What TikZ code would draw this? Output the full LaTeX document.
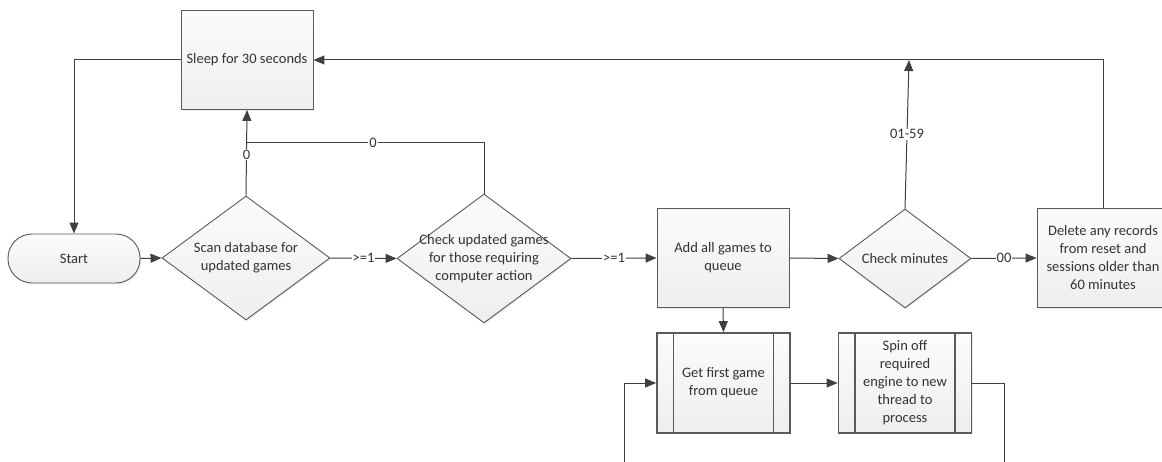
\documentclass[tikz,border=0pt]{standalone}
\usepackage{fontspec}
\setmainfont{Carlito}
\usetikzlibrary{arrows.meta,shapes.geometric,shadows}
\definecolor{ink}{HTML}{333333}
\definecolor{edgegray}{HTML}{5A5A5A}
\definecolor{wire}{HTML}{404040}
\begin{document}
\begin{tikzpicture}[x=1pt,y=-1pt,
  font=\fontsize{14.5}{18}\selectfont, text=ink,
  base/.style={draw=edgegray, line width=0.9pt, top color=gray!3, bottom color=gray!13,
    drop shadow={shadow xshift=1.2pt, shadow yshift=-1.2pt, opacity=0.15},
    inner sep=0pt, align=center},
  procbox/.style={base, rectangle, minimum width=132pt, minimum height=99pt},
  termbox/.style={base, rectangle, rounded corners=24pt, minimum width=132pt, minimum height=49pt},
  decide/.style={base, diamond, minimum width=#1},
  subproc/.style={base, rectangle, line width=1.7pt, minimum width=133pt, minimum height=100pt,
    path picture={
      \draw[edgegray, line width=1.5pt]
        ([xshift=16.5pt]path picture bounding box.north west) -- ([xshift=16.5pt]path picture bounding box.south west)
        ([xshift=-16.5pt]path picture bounding box.north east) -- ([xshift=-16.5pt]path picture bounding box.south east);}},
  dtext/.style={align=center, text=ink},
  arr/.style={draw=wire, line width=1pt, -{Triangle[length=11pt,width=9pt]}},
  wireline/.style={draw=wire, line width=1pt},
  lab/.style={fill=white, inner sep=1pt, text=ink}
]
\useasboundingbox (0,0) rectangle (1162,462);
\clip (0,0) rectangle (1162,462);

% main row
\node[procbox] (sleep) at (247,60) {Sleep for 30 seconds};
\node[termbox] (start) at (74,258.5) {Start};
\node[decide=168pt, minimum height=124pt,
      label={[dtext]center:Scan database for\\updated games}] (scan) at (246,258) {};
\node[decide=174pt, minimum height=129pt,
      label={[dtext]center:Check updated games\\for those requiring\\computer action}] (check) at (484,258.5) {};
\node[procbox] (add) at (723,258) {Add all games to\\queue};
\node[decide=132pt, minimum height=99pt,
      label={[dtext]center:Check minutes}] (minutes) at (905,258.5) {};
\node[procbox] (delete) at (1103,258) {Delete any records\\from reset and\\sessions older than\\60 minutes};

% queue processing
\node[subproc] (get) at (723.5,383) {Get first game\\from queue};
\node[subproc] (spin) at (905,383) {Spin off\\required\\engine to new\\thread to\\process};

% free ends of connectors
\coordinate (join) at (246,143);
\coordinate (mtop) at (909,60);
\coordinate (loopin) at (624,462);
\coordinate (loopout) at (1004,462);

% connectors
\draw[arr] (sleep.west) -| (start.north);
\draw[arr] (start.east) -- (scan.west);
\draw[arr] (scan.north) -- node[lab, pos=0.48]{0} (sleep.south);
\draw[wireline] (check.north) |- node[lab, pos=0.733]{0} (join);
\draw[arr] (scan.east) -- node[lab]{>=1} (check.west);
\draw[arr] (check.east) -- node[lab]{>=1} (add.west);
\draw[arr] (add.east) -- (minutes.west);
\draw[arr] (minutes.north) -- node[lab]{01-59} (mtop);
\draw[arr] (minutes.east) -- node[lab]{00} (delete.west);
\draw[arr] (delete.north) |- (sleep.east);
\draw[arr] (add.south) -- (get.north);
\draw[arr] (get.east) -- (spin.west);
\draw[arr] (loopin) |- (get.west);
\draw[wireline] (spin.east) -| (loopout);
\end{tikzpicture}
\end{document}
